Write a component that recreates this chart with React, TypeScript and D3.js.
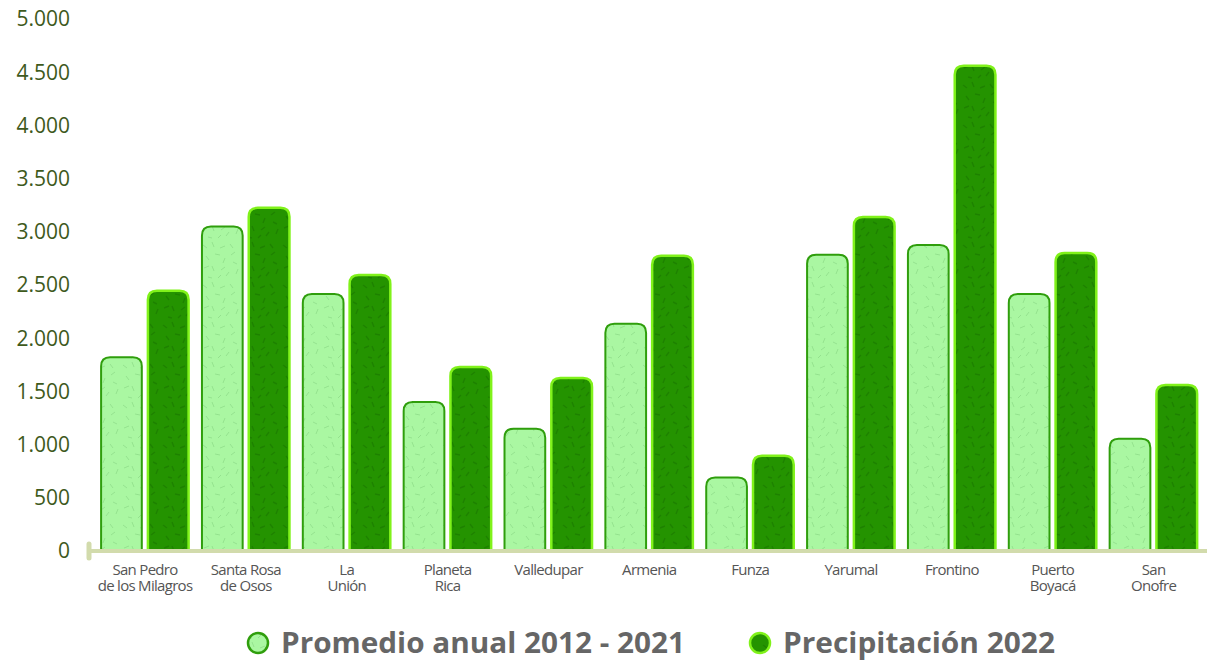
import { useMemo } from "react";
import * as d3 from "d3";

const categories = [
  ["San Pedro", "de los Milagros"],
  ["Santa Rosa", "de Osos"],
  ["La", "Unión"],
  ["Planeta", "Rica"],
  ["Valledupar"],
  ["Armenia"],
  ["Funza"],
  ["Yarumal"],
  ["Frontino"],
  ["Puerto", "Boyacá"],
  ["San", "Onofre"],
];
const promedio = [1820, 3050, 2415, 1400, 1150, 2135, 690, 2785, 2875, 2415, 1055];
const precipitacion = [2445, 3225, 2595, 1730, 1625, 2775, 895, 3140, 4560, 2800, 1560];
const yTicks = [0, 500, 1000, 1500, 2000, 2500, 3000, 3500, 4000, 4500, 5000];
const seriesNames = ["Promedio anual 2012 - 2021", "Precipitación 2022"];

const W = 1207;
const H = 661;

const locale = d3.formatLocale({
  decimal: ",",
  thousands: ".",
  grouping: [3],
  currency: ["", ""],
});
const fmt = locale.format(",");

// top-rounded bar path
function barPath(x: number, y: number, w: number, h: number, r: number) {
  const rr = Math.min(r, h / 2, w / 2);
  return `M${x},${y + h}V${y + rr}Q${x},${y} ${x + rr},${y}H${x + w - rr}Q${x + w},${y} ${x + w},${y + rr}V${y + h}Z`;
}

// texture marks for the fills (decorative only)
const marks = [
  "M3,5l4,3", "M12,2l2,5", "M20,8l5,-2", "M30,4l3,4", "M35,12l-4,3",
  "M6,16l3,4", "M15,14l5,1", "M25,18l-2,5", "M33,22l4,2", "M4,28l5,-2",
  "M12,26l2,5", "M21,30l4,-3", "M29,32l-3,4", "M36,34l2,-5", "M8,37l4,1",
  "M18,38l3,-3",
];

export default function App() {
  const x0 = useMemo(
    () =>
      d3
        .scaleBand<number>()
        .domain(d3.range(categories.length))
        .range([94.6, 1204])
        .paddingInner(0)
        .paddingOuter(0),
    [],
  );
  const y = useMemo(() => d3.scaleLinear().domain([0, 5000]).range([551, 19]), []);
  const x1 = d3.scaleBand<number>().domain([0, 1]).range([6.5, 94]).paddingInner(0.13);

  const series = [
    { values: promedio, fill: "url(#patLight)", stroke: "#2f9e0c", sw: 2 },
    { values: precipitacion, fill: "url(#patDark)", stroke: "#80f21a", sw: 2.5 },
  ];

  return (
    <svg width={W} height={H} style={{ position: "absolute", left: 0, top: 0 }}>
      <defs>
        <pattern id="patLight" patternUnits="userSpaceOnUse" width="40" height="40">
          <rect width="40" height="40" fill="#aaf7a2" />
          {marks.map((m, i) => (
            <path key={i} d={m} stroke="#8fdc8a" strokeWidth={1} fill="none" opacity={0.8} />
          ))}
        </pattern>
        <pattern id="patDark" patternUnits="userSpaceOnUse" width="40" height="40">
          <rect width="40" height="40" fill="#249300" />
          {marks.map((m, i) => (
            <path key={i} d={m} stroke="#1c7d00" strokeWidth={1.4} fill="none" opacity={0.8} />
          ))}
        </pattern>
      </defs>
      <rect width={W} height={H} fill="#fff" />

      {/* y axis labels */}
      {yTicks.map((t) => (
        <text
          key={t}
          x={70}
          y={y(t)}
          dy="0.35em"
          textAnchor="end"
          fontFamily="'Open Sans', sans-serif"
          fontSize={21}
          fill="#3e5a1c"
        >
          {fmt(t)}
        </text>
      ))}

      {/* bars */}
      {categories.map((_, i) =>
        series.map((s, j) => {
          const bx = (x0(i) as number) + (x1(j) as number);
          const bw = x1.bandwidth();
          const by = y(s.values[i]);
          return (
            <path
              key={`${i}-${j}`}
              d={barPath(bx, by, bw, y(0) - by, 9)}
              fill={s.fill}
              stroke={s.stroke}
              strokeWidth={s.sw}
            />
          );
        }),
      )}

      {/* baseline */}
      <line x1={89} x2={W} y1={y(0)} y2={y(0)} stroke="#d2dbac" strokeWidth={4} />
      <line x1={89} x2={89} y1={y(0) - 7} y2={y(0) + 7} stroke="#d2dbac" strokeWidth={5} strokeLinecap="round" />

      {/* category labels */}
      {categories.map((lines, i) => {
        const cx = (x0(i) as number) + x0.bandwidth() / 2;
        return lines.map((l, k) => (
          <text
            key={`${i}-${k}`}
            x={cx}
            y={575 + k * 16}
            textAnchor="middle"
            fontFamily="'Open Sans', sans-serif"
            fontSize={15}
            letterSpacing={-0.7}
            fill="#555"
          >
            {l}
          </text>
        ));
      })}

      {/* legend */}
      {seriesNames.map((name, j) => {
        const lx = j === 0 ? 258 : 760;
        const tw = j === 0 ? 404 : 272;
        return (
          <g key={name}>
            <circle
              cx={lx}
              cy={643}
              r={10}
              fill={series[j].fill}
              stroke={series[j].stroke}
              strokeWidth={2.5}
            />
            <text
              x={lx + 23}
              y={643}
              dy="0.36em"
              fontFamily="'Open Sans', sans-serif"
              fontWeight="bold"
              fontSize={29}
              fill="#666"
              textLength={tw}
              lengthAdjust="spacingAndGlyphs"
            >
              {name}
            </text>
          </g>
        );
      })}
    </svg>
  );
}
